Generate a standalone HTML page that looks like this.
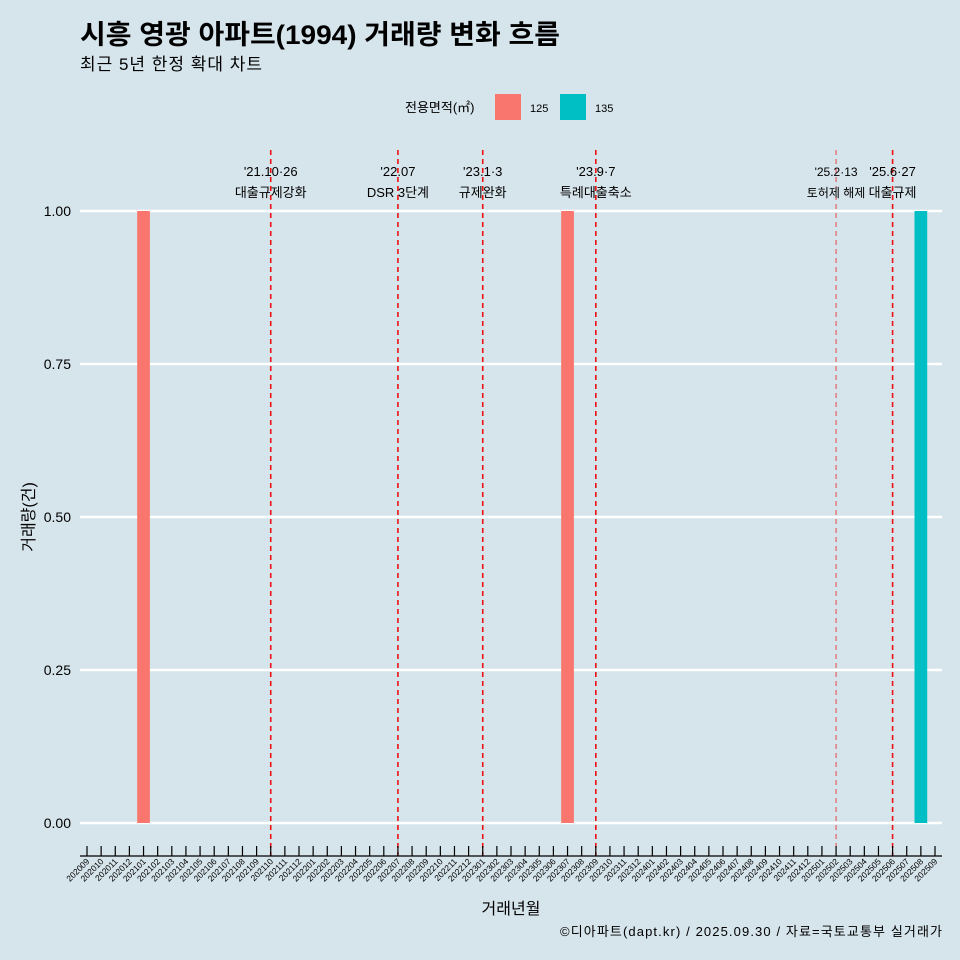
<!DOCTYPE html>
<html><head><meta charset="utf-8"><style>
body{margin:0;background:#d6e4eb;}
svg{display:block;font-family:"Liberation Sans","Noto Sans CJK KR",sans-serif;}
</style></head><body>
<svg id="chart" width="960" height="960">
<rect width="960" height="960" fill="#d6e4eb"/>
<text x="80" y="44" font-size="27" font-weight="bold" fill="#000" textLength="480" lengthAdjust="spacingAndGlyphs">시흥 영광 아파트(1994) 거래량 변화 흐름</text>
<text x="80" y="70" font-size="17" fill="#000" textLength="182">최근 5년 한정 확대 차트</text>
<g>
<text x="405" y="112" font-size="13">전용면적(㎡)</text>
<rect x="495" y="94" width="26" height="26" fill="#f8766d"/>
<text x="530" y="112" font-size="11">125</text>
<rect x="560" y="94" width="26" height="26" fill="#00bfc4"/>
<text x="595" y="112" font-size="11">135</text>
</g>
<g id="grid"></g><g id="bars"></g><g id="events"></g><g id="xaxis"></g><g id="yaxis"></g>
<text transform="translate(34,517) rotate(-90)" text-anchor="middle" font-size="16">거래량(건)</text>
<text x="511" y="914" text-anchor="middle" font-size="16">거래년월</text>
<text x="942" y="936" text-anchor="end" font-size="13" textLength="382">©디아파트(dapt.kr) / 2025.09.30 / 자료=국토교통부 실거래가</text>
</svg>
<script>
const months = [];
for (let y = 2020; y <= 2025; y++) for (let m = 1; m <= 12; m++) {
  const k = y * 100 + m; if (k >= 202009 && k <= 202509) months.push(String(k));
}
const barMonths = ["202101", "202307", "202508"];
const barAreas = ["125", "125", "135"];
const barValues = [1, 1, 1];
const yTicks = [0, 0.25, 0.5, 0.75, 1];
const yTickLabels = ["0.00", "0.25", "0.50", "0.75", "1.00"];
const eventMonths = ["202110", "202207", "202301", "202309", "202502", "202506"];
const eventDates = ["'21.10·26", "'22.07", "'23.1·3", "'23.9·7", "'25.2·13", "'25.6·27"];
const eventNames = ["대출규제강화", "DSR 3단계", "규제완화", "특례대출축소", "토허제 해제", "대출규제"];
const colors = {"125": "#f8766d", "135": "#00bfc4"};

const NS = "http://www.w3.org/2000/svg";
const x0 = 87, step = (935 - 87) / 60;
const xs = m => x0 + months.indexOf(m) * step;
const ys = v => 823 - v * 612;
function mk(tag, attrs, parent) {
  const e = document.createElementNS(NS, tag);
  for (const k in attrs) e.setAttribute(k, attrs[k]);
  parent.appendChild(e); return e;
}
const grid = document.getElementById('grid'), bars = document.getElementById('bars'),
  ev = document.getElementById('events'), xa = document.getElementById('xaxis'), ya = document.getElementById('yaxis');
yTicks.forEach((t, i) => {
  const l = mk('line', {x1: 80, x2: 942, y1: ys(t), y2: ys(t), stroke: '#fff', 'stroke-width': 2.5}, grid);
  
  
  const tx = mk('text', {x: 71, y: ys(t) + 5, 'text-anchor': 'end', 'font-size': 14}, ya);
  tx.textContent = yTickLabels[i];
  
  
});
barMonths.forEach((m, i) => {
  const w = step * 0.9;
  const r = mk('rect', {x: xs(m) - w / 2, y: ys(barValues[i]), width: w, height: ys(0) - ys(barValues[i]), fill: colors[barAreas[i]]}, bars);
  
  
});
eventMonths.forEach((m, i) => {
  const x = xs(m);
  const thin = i === 4;
  const l = mk('line', {x1: x, x2: x, y1: 150, y2: 856, stroke: thin ? '#e8474a' : '#ee1111', 'stroke-width': thin ? 1 : 1.6, 'stroke-dasharray': '5,4'}, ev);
  
  
  const fs = thin ? 12 : 13;
  const t1 = mk('text', {x: x, y: 176, 'text-anchor': 'middle', 'font-size': fs}, ev);
  t1.textContent = eventDates[i];
  
  
  const t2 = mk('text', {x: x, y: 197, 'text-anchor': 'middle', 'font-size': fs}, ev);
  t2.textContent = eventNames[i];
  
  
});
const ax = mk('line', {x1: 80, x2: 942, y1: 856, y2: 856, stroke: '#000', 'stroke-width': 1.2}, xa);


months.forEach(m => {
  const x = xs(m);
  const tk = mk('line', {x1: x, x2: x, y1: 846, y2: 856, stroke: '#000', 'stroke-width': 1.2}, xa);
  
  
  const t = mk('text', {transform: `translate(${x + 3},${862}) rotate(-45)`, 'text-anchor': 'end', 'font-size': 8.5}, xa);
  t.textContent = m;
  
  
});
</script>
</body></html>
